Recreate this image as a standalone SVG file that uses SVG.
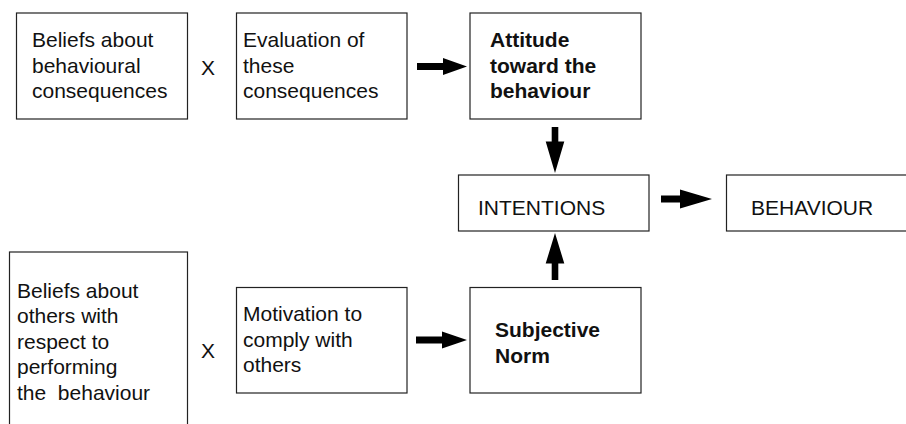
<svg xmlns="http://www.w3.org/2000/svg" width="906" height="424" viewBox="0 0 906 424">
<style>
.box{fill:#fff;stroke:#222;stroke-width:1.2}
text{font-family:"Liberation Sans",Arial,Helvetica,sans-serif;font-size:21px;fill:#111}
.b{font-weight:bold}
.arr{fill:#000}
</style>
<rect width="906" height="424" fill="#fff"/>
<g id="beliefs-consequences">
<rect class="box" x="16.5" y="13" width="171" height="106"/>
<text x="32" y="47">Beliefs about</text>
<text x="32" y="73">behavioural</text>
<text x="32" y="98">consequences</text>
</g>
<g id="x-top"><text x="201" y="75">X</text></g>
<g id="evaluation">
<rect class="box" x="236.5" y="13" width="170.5" height="106"/>
<text x="243" y="47">Evaluation of</text>
<text x="243" y="73">these</text>
<text x="243" y="98">consequences</text>
</g>
<g id="attitude">
<rect class="box" x="470" y="13" width="171" height="106"/>
<text class="b" x="490" y="47">Attitude</text>
<text class="b" x="490" y="73">toward the</text>
<text class="b" x="490" y="98">behaviour</text>
</g>
<g id="intentions">
<rect class="box" x="458.5" y="175" width="190.5" height="56"/>
<text x="478" y="215">INTENTIONS</text>
</g>
<g id="behaviour">
<rect class="box" x="726.5" y="175" width="185" height="56"/>
<text x="751" y="215">BEHAVIOUR</text>
</g>
<g id="beliefs-others">
<rect class="box" x="9.5" y="252" width="178" height="190"/>
<text x="17" y="297.5">Beliefs about</text>
<text x="17" y="323">others with</text>
<text x="17" y="348.5">respect to</text>
<text x="17" y="374">performing</text>
<text x="17" y="399.5" xml:space="preserve">the  behaviour</text>
</g>
<g id="x-bottom"><text x="201" y="358">X</text></g>
<g id="motivation">
<rect class="box" x="236.5" y="287.5" width="170.5" height="105.5"/>
<text x="243" y="321">Motivation to</text>
<text x="243" y="346.5">comply with</text>
<text x="243" y="372">others</text>
</g>
<g id="subjective-norm">
<rect class="box" x="470" y="287.5" width="171" height="105.5"/>
<text class="b" x="495" y="337">Subjective</text>
<text class="b" x="495" y="363">Norm</text>
</g>
<g id="connectors">
<polygon class="arr" points="417,63 443,63 443,58 467,66.5 443,75 443,70 417,70"/>
<polygon class="arr" points="416,336.5 442,336.5 442,331.5 467,340 442,348.5 442,343.5 416,343.5"/>
<polygon class="arr" points="661,195.5 680,195.5 680,189.5 712,199 680,208.5 680,202.5 661,202.5"/>
<polygon class="arr" points="551.7,127 558.3,127 558.3,141.5 564.3,141.5 555,173 545.7,141.5 551.7,141.5"/>
<polygon class="arr" points="551.7,280 558.3,280 558.3,263.5 564.3,263.5 555,233 545.7,263.5 551.7,263.5"/>
</g>
</svg>
